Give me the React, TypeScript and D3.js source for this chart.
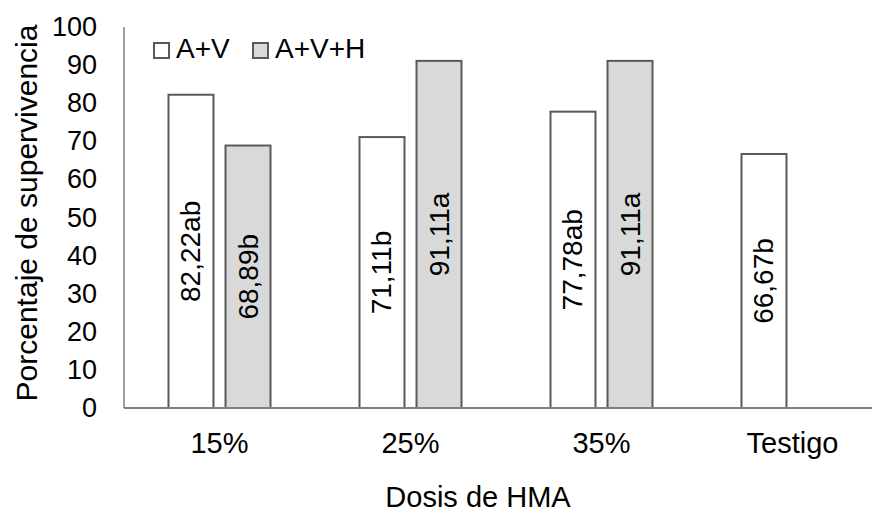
import React from "react";
import * as d3 from "d3";

// Datos del gráfico
const categories = ["15%", "25%", "35%", "Testigo"];
const series = ["A+V", "A+V+H"];
const avValues: (number | null)[] = [82.22, 71.11, 77.78, 66.67];
const avhValues: (number | null)[] = [68.89, 91.11, 91.11, null];
const avLabels = ["82,22ab", "71,11b", "77,78ab", "66,67b"];
const avhLabels = ["68,89b", "91,11a", "91,11a", ""];
const yTicks = [0, 10, 20, 30, 40, 50, 60, 70, 80, 90, 100];

const fills = ["#ffffff", "#d9d9d9"];
const font = "'Liberation Sans', Arial, sans-serif";

export default function App() {
  const width = 872;
  const height = 515;
  const margin = { top: 27, left: 124, bottom: 107, right: -16 };

  // Escala de categorías (eje X)
  const x = d3
    .scaleBand<string>()
    .domain(categories)
    .range([margin.left, width - margin.right])
    .padding(0);

  // Escala para las series dentro de cada categoría
  const xSub = d3
    .scaleBand<string>()
    .domain(series)
    .range([0, 102])
    .paddingInner(0.211)
    .paddingOuter(0);

  // Escala lineal del eje Y
  const y = d3
    .scaleLinear()
    .domain([0, 100])
    .range([height - margin.bottom, margin.top]);

  const rows = categories.map((c, i) => ({
    cat: c,
    vals: [
      { s: series[0], v: avValues[i], label: avLabels[i] },
      { s: series[1], v: avhValues[i], label: avhLabels[i] },
    ],
  }));

  const groupOffset = (x.bandwidth() - 102) / 2;

  return (
    <svg
      width={width}
      height={height}
      style={{ position: "absolute", left: 0, top: 0, fontFamily: font }}
    >
      <rect width={width} height={height} fill="#ffffff" />

      {/* Barras */}
      {rows.map((r) =>
        r.vals.map((d, j) => {
          if (d.v == null) return null;
          const bx = (x(r.cat) ?? 0) + groupOffset + (xSub(d.s) ?? 0);
          const cx = bx + xSub.bandwidth() / 2;
          return (
            <g key={r.cat + d.s}>
              <rect
                x={bx}
                y={y(d.v)}
                width={xSub.bandwidth()}
                height={y(0) - y(d.v)}
                fill={fills[j]}
                stroke="#595959"
                strokeWidth={2}
              />
              <text
                transform={`translate(${cx}, ${y(d.v / 2)}) rotate(-90)`}
                textAnchor="middle"
                dominantBaseline="central"
                fontSize={28}
                fill="#000"
              >
                {d.label}
              </text>
            </g>
          );
        })
      )}

      {/* Eje Y */}
      <line
        x1={margin.left}
        x2={margin.left}
        y1={y(100)}
        y2={y(0)}
        stroke="#7f7f7f"
        strokeWidth={1.5}
      />
      {yTicks.map((t) => (
        <text
          key={t}
          x={97}
          y={y(t)}
          textAnchor="end"
          dominantBaseline="central"
          fontSize={27}
          fill="#000"
        >
          {t}
        </text>
      ))}

      {/* Eje X */}
      <line
        x1={margin.left}
        x2={width}
        y1={y(0)}
        y2={y(0)}
        stroke="#7f7f7f"
        strokeWidth={2}
      />
      {categories.map((c) => (
        <text
          key={c}
          x={(x(c) ?? 0) + x.bandwidth() / 2}
          y={453}
          textAnchor="middle"
          fontSize={29}
          fill="#000"
        >
          {c}
        </text>
      ))}

      {/* Títulos de los ejes */}
      <text
        x={478}
        y={507}
        textAnchor="middle"
        fontSize={29}
        fill="#000"
      >
        Dosis de HMA
      </text>
      <text
        transform="translate(37, 213) rotate(-90)"
        textAnchor="middle"
        fontSize={30}
        fill="#000"
      >
        Porcentaje de supervivencia
      </text>

      {/* Leyenda */}
      {series.map((s, i) => {
        const lx = i === 0 ? 154 : 253;
        return (
          <g key={s}>
            <rect
              x={lx}
              y={43}
              width={15}
              height={15}
              fill={fills[i]}
              stroke="#595959"
              strokeWidth={2}
            />
            <text x={lx + 22} y={58} fontSize={28} fill="#000">
              {s}
            </text>
          </g>
        );
      })}
    </svg>
  );
}
